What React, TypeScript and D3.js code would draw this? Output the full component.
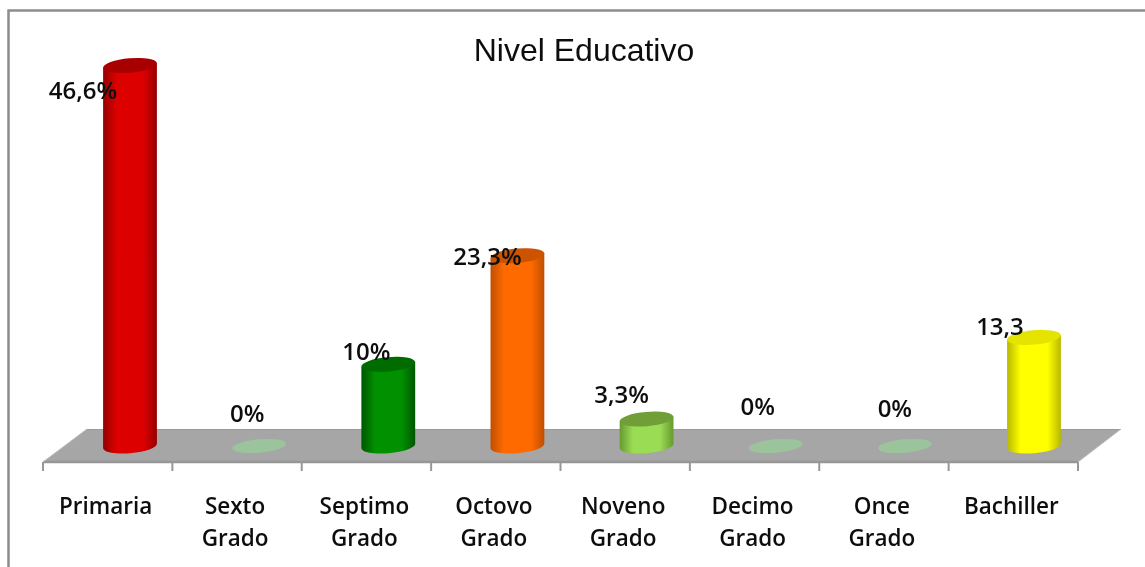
import React from "react";
import * as d3 from "d3";

const categories: string[][] = [["Primaria"], ["Sexto", "Grado"], ["Septimo", "Grado"], ["Octovo", "Grado"], ["Noveno", "Grado"], ["Decimo", "Grado"], ["Once", "Grado"], ["Bachiller"]];
const values = [46.6, 0, 10, 23.3, 3.3, 0, 0, 13.3];
const valueLabels = ["46,6%", "0%", "10%", "23,3%", "3,3%", "0%", "0%", "13,3"];
const bodyEdge = ["#960000", "#7fb98a", "#005600", "#c04e00", "#669a30", "#7fb98a", "#7fb98a", "#b8b800"];
const bodyMid = ["#dc0000", "#9cc79c", "#009000", "#ff6a00", "#9bdc55", "#9cc79c", "#9cc79c", "#ffff00"];
const capColor = ["#a80000", "#9cc49c", "#006c00", "#cc5200", "#6f9f38", "#9cc49c", "#9cc49c", "#e4e400"];
const labelDx = [-47, -12, -22, -30, -25, -18, -10, -34];
const labelDy = [27, -30, -11, 3, -22, -37, -35, -9];

const W = 1145, H = 567;
const x = d3.scaleBand<number>().domain(d3.range(categories.length)).range([43, 1078]);
const barX = d3.scalePoint<number>().domain(d3.range(categories.length)).range([130, 1034]);
const y = d3.scaleLinear().domain([0, 46.6]).range([446, 65.5]);
const rx = 27, ry = 7.2, tilt = -5;
const rad = (tilt * Math.PI) / 180;
const ex = rx * Math.cos(rad), ey = rx * Math.sin(rad);

const font = "'Open Sans','Noto Sans',sans-serif";

export default function App() {
  const ticks = d3.range(categories.length + 1).map((i) => 43 + x.step() * i);
  return (
    <svg width={W} height={H} style={{ position: "absolute", left: 0, top: 0 }}>
      <defs>
        {values.map((_, i) => (
          <linearGradient key={i} id={`g${i}`} x1="0" x2="1" y1="0" y2="0">
            <stop offset="0" stopColor={bodyEdge[i]} />
            <stop offset="0.25" stopColor={bodyMid[i]} />
            <stop offset="0.75" stopColor={bodyMid[i]} />
            <stop offset="1" stopColor={bodyEdge[i]} />
          </linearGradient>
        ))}
        <filter id="soft" x="-5%" y="-5%" width="110%" height="110%">
          <feGaussianBlur stdDeviation="0.45" />
        </filter>
      </defs>
      <rect x={0} y={0} width={W} height={H} fill="#fff" />
      <g filter="url(#soft)">
        <path d={`M${W + 5},10.5H8.5V${H + 5}`} fill="none" stroke="#8c8c8c" strokeWidth={2.5} />
        <path d="M43,462L87,429H1121L1078,462Z" fill="#a6a6a6" />
        <path d="M43,462H1078" stroke="#969696" strokeWidth={2.5} />
        <path d="M87,429.5H1121" stroke="#9a9a9a" strokeWidth={1} />
        <path d="M43,462L87,429M1078,462L1121,429" stroke="#bdbdbd" strokeWidth={1} />
        {ticks.map((t, i) => (
          <line key={i} x1={t} x2={t} y1={462} y2={471} stroke="#979797" strokeWidth={2} />
        ))}
        {values.map((v, i) => {
          const cx = barX(i) as number;
          const top = y(v), base = y(0);
          if (v === 0) {
            return (
              <ellipse key={i} cx={cx} cy={base} rx={rx} ry={ry - 0.5} fill={capColor[i]}
                transform={`rotate(${tilt} ${cx} ${base})`} />
            );
          }
          const body = `M${cx - ex},${top - ey}L${cx - ex},${base - ey}A${rx},${ry} ${tilt} 0 0 ${cx + ex},${base + ey}L${cx + ex},${top + ey}Z`;
          return (
            <g key={i}>
              <path d={body} fill={`url(#g${i})`} />
              <ellipse cx={cx} cy={top} rx={rx} ry={ry} fill={capColor[i]}
                transform={`rotate(${tilt} ${cx} ${top})`} />
            </g>
          );
        })}
        <text x={584} y={61} textAnchor="middle" fontFamily="'Liberation Sans',Arial,sans-serif" fontSize={32} fill="#111">
          Nivel Educativo
        </text>
        {values.map((v, i) => (
          <text key={i} x={(barX(i) as number) + labelDx[i]} y={y(v) + labelDy[i]} textAnchor="middle" dominantBaseline="middle"
            fontFamily={font} fontWeight={600} fontSize={24} fill="#111">
            {valueLabels[i]}
          </text>
        ))}
        {categories.map((c, i) => (
          <text key={i} textAnchor="middle" fontFamily={font} fontWeight={600} fontSize={22.5} fill="#111">
            {c.map((line, j) => (
              <tspan key={j} x={(x(i) as number) + x.bandwidth() / 2 - 2} y={514 + j * 32}>{line}</tspan>
            ))}
          </text>
        ))}
      </g>
    </svg>
  );
}
